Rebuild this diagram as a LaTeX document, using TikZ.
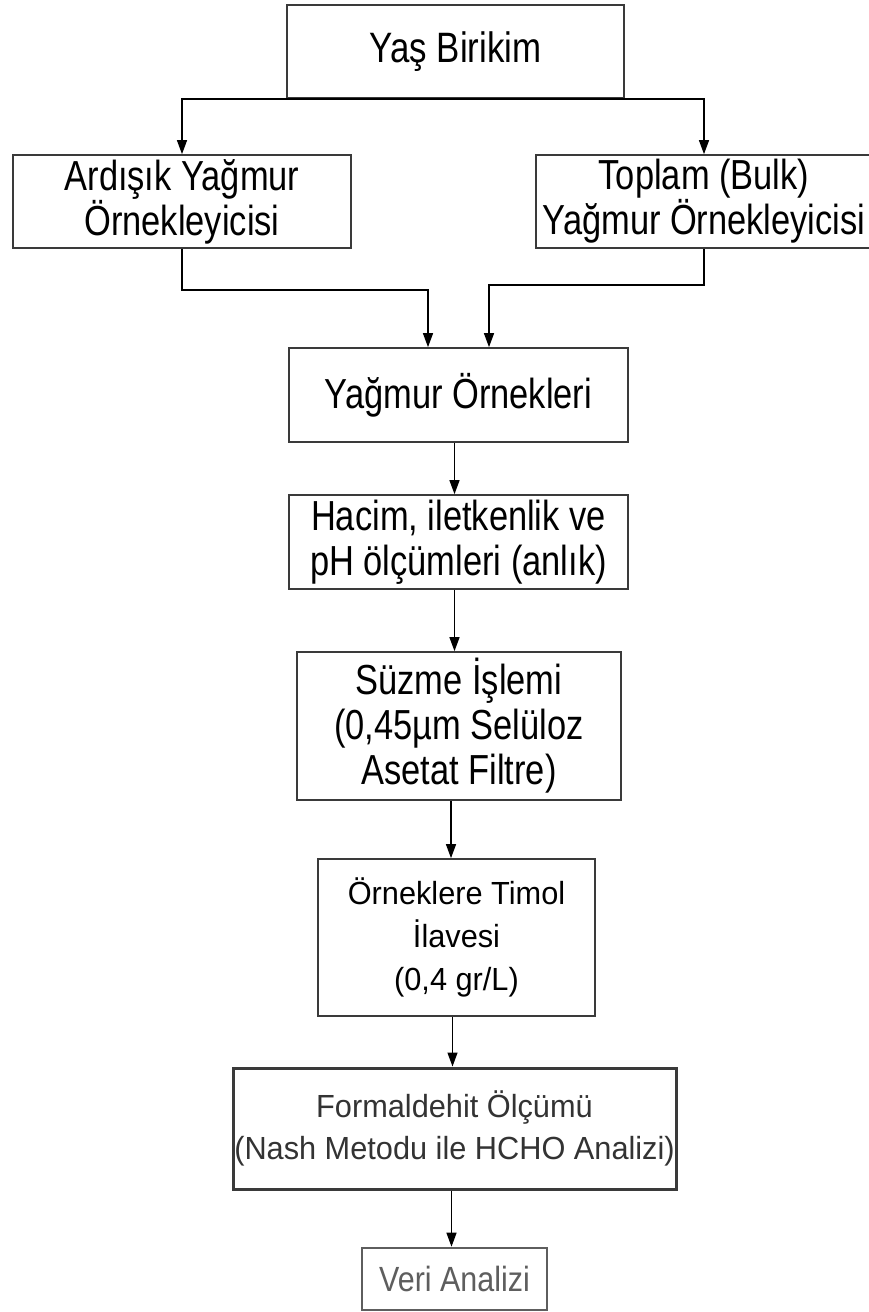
\documentclass[tikz,border=0pt]{standalone}
\usepackage{fontspec}
\setmainfont{Liberation Sans}
\newfontfamily\fcond[FakeStretch=0.82]{Liberation Sans}
\newfontfamily\fnorm[FakeStretch=0.96]{Liberation Sans}
\newfontfamily\fveri[FakeStretch=0.87]{Liberation Sans}
\usetikzlibrary{arrows.meta,calc}
\definecolor{boxc}{HTML}{3A3A3A}
\definecolor{txtdark}{HTML}{333333}
\definecolor{txtgrey}{HTML}{5E5E5E}
\begin{document}
\begin{tikzpicture}[x=1pt,y=-1pt,
  box/.style={draw=boxc, line width=1.7pt, rectangle, inner sep=0pt, align=center, text=black},
  bigtxt/.style={font=\fcond\fontsize{42}{45}\selectfont},
  toptxt/.style={font=\fcond\fontsize{42.5}{47}\selectfont},
  smalltxt/.style={font=\fnorm\fontsize{32}{43}\selectfont},
  arr/.style={-{Triangle[length=14pt,width=10pt]}, line width=1.3pt, draw=black}]
\useasboundingbox[fill=white] (0,0) rectangle (869,1312);

\node[box, toptxt, minimum width=337pt, minimum height=93pt] (top) at (455.5,51.5) {Yaş Birikim};
\node[box, bigtxt, minimum width=338pt, minimum height=93pt] (left) at (182,201.5) {Ardışık Yağmur\\Örnekleyicisi};
\node[box, bigtxt, minimum width=336pt, minimum height=93pt] (right) at (704,201.5) {Toplam (Bulk)\\Yağmur Örnekleyicisi};
\node[box, bigtxt, minimum width=339pt, minimum height=94pt] (yag) at (458.5,395) {Yağmur Örnekleri};
\node[box, bigtxt, minimum width=339pt, minimum height=94pt] (hac) at (458.5,542) {Hacim, iletkenlik ve\\pH ölçümleri (anlık)};
\node[box, bigtxt, minimum width=324pt, minimum height=148pt] (suz) at (459,726) {Süzme İşlemi\\(0,45µm Selüloz\\Asetat Filtre)};
\node[box, smalltxt, minimum width=277pt, minimum height=157pt] (tim) at (456.5,937.5) {Örneklere Timol\\İlavesi\\(0,4 gr/L)};
\node[box, smalltxt, text=txtdark, line width=3pt, minimum width=443pt, minimum height=121pt, font=\fnorm\fontsize{32}{41.5}\selectfont] (for) at (454.5,1128.5) {Formaldehit Ölçümü\\(Nash Metodu ile HCHO Analizi)};
\node[box, text=txtgrey, draw=txtgrey, line width=2.6pt, minimum width=185pt, minimum height=62pt, font=\fveri\fontsize{35}{40}\selectfont] (veri) at (454.5,1279) {Veri Analizi};

% connectors
\coordinate (yl) at ($(yag.north)+(-30.5,0)$);
\coordinate (yr) at ($(yag.north)+(30.5,0)$);
\coordinate (lb) at ($(left.south)+(0,41)$);
\coordinate (rb) at ($(right.south)+(0,36)$);
\coordinate (s1) at ($(yag.south)+(-4,0)$);
\coordinate (s2) at ($(hac.south)+(-4,0)$);
\coordinate (s3) at ($(suz.south)+(-8,0)$);
\coordinate (s4) at ($(tim.south)+(-4,0)$);
\coordinate (s5) at ($(for.south)+(-3,0)$);
\draw[arr] (top.south) -| (left.north);
\draw[arr] (top.south) -| (right.north);
\draw[arr] (left.south) -- (lb) -| (yl);
\draw[arr] (right.south) -- (rb) -| (yr);
\draw[arr] (s1) -- (s1 |- hac.north);
\draw[arr] (s2) -- (s2 |- suz.north);
\draw[arr] (s3) -- (s3 |- tim.north);
\draw[arr] (s4) -- (s4 |- for.north);
\draw[arr] (s5) -- (s5 |- veri.north);
\end{tikzpicture}
\end{document}
